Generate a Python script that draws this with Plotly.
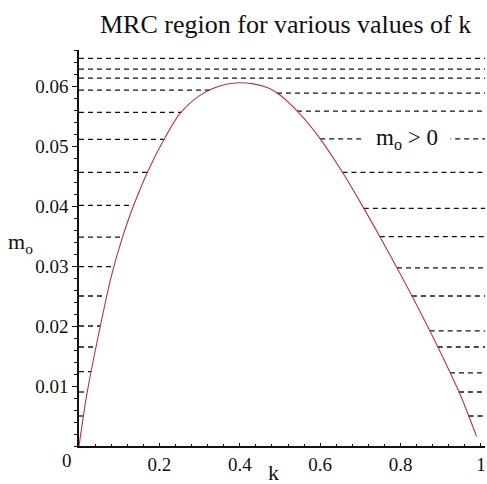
import numpy as np
import plotly.graph_objects as go

# Curve m0(k)
k_vals = [0, 0.02, 0.05, 0.08, 0.11, 0.14, 0.17, 0.21, 0.25, 0.30, 0.35, 0.39, 0.43,
          0.47, 0.50, 0.55, 0.60, 0.65, 0.70, 0.75, 0.80, 0.85, 0.90, 0.95, 0.989]
m_vals = [0, 0.0088, 0.0190, 0.0282, 0.0352, 0.0408, 0.0456, 0.0509, 0.0553, 0.0584, 0.0600,
          0.0605, 0.0604, 0.0597, 0.0585, 0.0553, 0.0512, 0.0462, 0.0406, 0.0347, 0.0286,
          0.0222, 0.0155, 0.0083, 0.0016]

# Hatch (dashed) levels on the left and right of the curve
left_levels = [0.0646, 0.0628, 0.0613, 0.0593, 0.0556, 0.0511, 0.0456, 0.0401, 0.0348,
               0.0299, 0.025, 0.020, 0.0165, 0.0124, 0.009, 0.005]
right_levels = [0.0646, 0.0628, 0.0613, 0.0588, 0.0558, 0.0512, 0.0456, 0.0396, 0.0349,
                0.0297, 0.025, 0.0192, 0.0165, 0.0122, 0.009, 0.005]

x_ticks = [0.2, 0.4, 0.6, 0.8, 1]
x_tick_text = ["0.2", "0.4", "0.6", "0.8", "1"]
y_ticks = [0.01, 0.02, 0.03, 0.04, 0.05, 0.06]
y_tick_text = ["0.01", "0.02", "0.03", "0.04", "0.05", "0.06"]

X_MAX = 1.01
Y_MAX = 0.066

k_arr = np.array(k_vals)
m_arr = np.array(m_vals)
ipk = int(np.argmax(m_arr))
peak = m_arr[ipk]

hx, hy = [], []
for lv in left_levels:
    if lv >= peak:
        hx += [0, X_MAX, None]
        hy += [lv, lv, None]
    else:
        xl = float(np.interp(lv, m_arr[:ipk + 1], k_arr[:ipk + 1]))
        hx += [0, xl, None]
        hy += [lv, lv, None]
for lv in right_levels:
    if lv < peak:
        xr = float(np.interp(lv, m_arr[ipk:][::-1], k_arr[ipk:][::-1]))
        hx += [xr, X_MAX, None]
        hy += [lv, lv, None]

fig = go.Figure()
fig.add_trace(go.Scatter(x=hx, y=hy, mode="lines",
                         line=dict(color="#111111", width=1.3, dash="5px,4px"),
                         hoverinfo="skip", showlegend=False))
fig.add_trace(go.Scatter(x=k_vals, y=m_vals, mode="lines",
                         line=dict(color="#b8324a", width=1.1, shape="spline", smoothing=0.8),
                         showlegend=False))

serif = "Liberation Serif"
fig.update_layout(
    width=487, height=484,
    margin=dict(l=79, r=2, t=50, b=38),
    paper_bgcolor="white", plot_bgcolor="white",
    font=dict(family=serif, size=19, color="#111111"),
    xaxis=dict(range=[0, X_MAX], tickvals=x_ticks, ticktext=x_tick_text,
               showgrid=False, zeroline=False, showline=True, linecolor="#111111",
               linewidth=1.5, ticks="inside", ticklen=3, tickcolor="#111111",
               minor=dict(dtick=0.04, ticks="inside", ticklen=2, tickcolor="#111111", showgrid=False),
               tickfont=dict(family=serif, size=19)),
    yaxis=dict(range=[0, Y_MAX], tickvals=y_ticks, ticktext=y_tick_text,
               showgrid=False, zeroline=False, showline=True, linecolor="#111111",
               linewidth=1.5, ticks="outside", ticklen=5, tickcolor="#111111",
               minor=dict(dtick=0.002, ticks="outside", ticklen=3, tickcolor="#111111", showgrid=False),
               tickfont=dict(family=serif, size=19)),
)

fig.add_annotation(text="MRC region for various values of k", xref="paper", yref="paper",
                   x=(285 - 79) / 406, y=1, yshift=26, xanchor="center", yanchor="middle",
                   showarrow=False, font=dict(family=serif, size=26, color="#111111"))
fig.add_annotation(text="m<sub>o</sub>", xref="paper", yref="y", x=0, y=0.0338, xshift=-59,
                   xanchor="center", yanchor="middle", showarrow=False,
                   font=dict(family=serif, size=22, color="#111111"))
fig.add_annotation(text="k", xref="x", yref="paper", x=0.4826, y=0, yshift=-26,
                   xanchor="center", yanchor="middle", showarrow=False,
                   font=dict(family=serif, size=22, color="#111111"))
fig.add_annotation(text="0", xref="x", yref="y", x=0, y=0, xshift=-12, yshift=-14,
                   xanchor="center", yanchor="middle", showarrow=False,
                   font=dict(family=serif, size=19, color="#111111"))
fig.add_annotation(text="m<sub>o</sub> > 0", xref="x", yref="y", x=0.816, y=0.0511,
                   xanchor="center", yanchor="middle", showarrow=False, bgcolor="white",
                   width=86, borderpad=0,
                   font=dict(family=serif, size=23, color="#111111"))

fig.write_html("out.html", config={"displayModeBar": False},
               post_script="document.body.style.margin='0';")
